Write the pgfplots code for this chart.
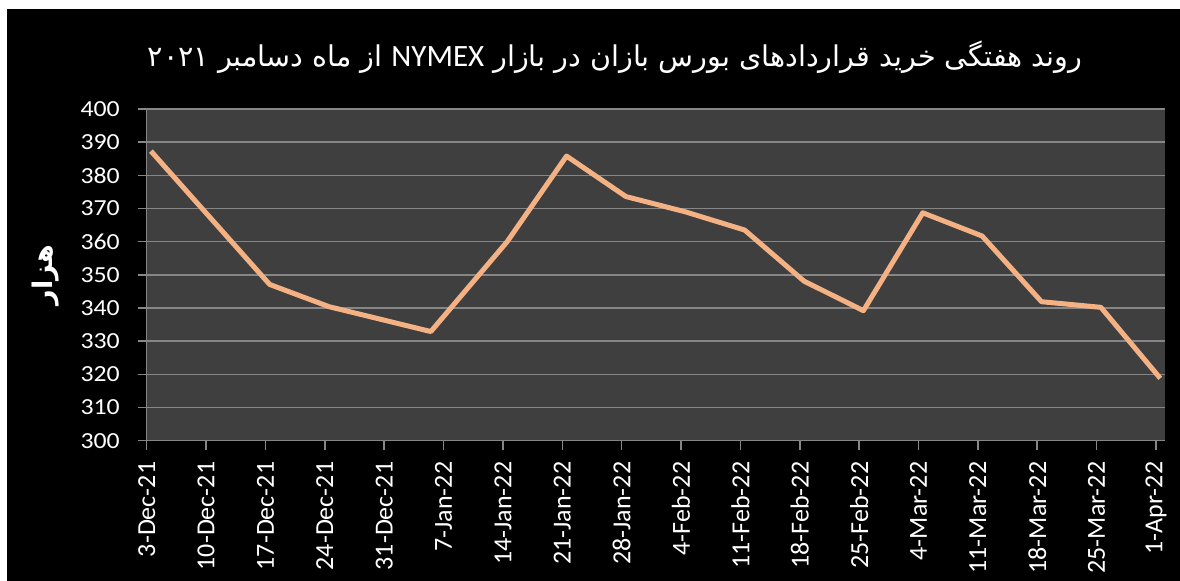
\documentclass[border=0pt]{standalone}
\usepackage{fontspec}
\usepackage{pgfplots}
\pgfplotsset{compat=1.18}
\setmainfont{Carlito}
\newfontfamily\arabicfont[Script=Arabic]{DejaVu Sans}
\newfontfamily\latinfont{Carlito}
\TeXXeTstate=1

\definecolor{plotbg}{HTML}{3F3F3F}
\definecolor{gridgray}{HTML}{868686}
\definecolor{lineorange}{HTML}{F4B183}

\pgfplotstableread{
day value
0.5 387.3
14.5 347.1
21.5 340.4
33.5 332.9
42.5 360.0
49.5 385.8
56.5 373.6
63.5 369.0
70.5 363.5
77.5 348.1
84.5 339.2
91.5 368.7
98.5 361.7
105.5 341.9
112.5 340.2
119.5 318.8
}\nymex

\begin{document}
\begin{tikzpicture}
\useasboundingbox (0,0) rectangle (590pt,290.5pt);
\fill[white] (0,0) rectangle (590pt,290.5pt);
\fill[black] (3.5pt,0) rectangle (590pt,286pt);

\begin{axis}[
  at={(73.35pt,70.15pt)}, anchor=south west,
  scale only axis,
  width=508.9pt, height=165.85pt,
  xmin=0, xmax=120,
  ymin=300, ymax=400,
  ytick={300,310,...,400},
  xtick={0,7,...,119},
  xticklabels={3-Dec-21,10-Dec-21,17-Dec-21,24-Dec-21,31-Dec-21,7-Jan-22,14-Jan-22,21-Jan-22,28-Jan-22,4-Feb-22,11-Feb-22,18-Feb-22,25-Feb-22,4-Mar-22,11-Mar-22,18-Mar-22,25-Mar-22,1-Apr-22},
  axis x line*=bottom, axis y line*=left,
  x axis line style={-}, y axis line style={-},
  axis line style={gridgray, line width=0.8pt},
  axis background/.style={fill=plotbg},
  ymajorgrids,
  major grid style={gridgray, line width=0.8pt},
  tick align=outside,
  major tick length=4.5pt,
  tick style={gridgray, line width=0.8pt},
  /pgf/number format/assume math mode=true,
  yticklabel style={font=\fontsize{11.5}{11.5}\selectfont, white, anchor=east, xscale=1.12, xshift=-4.5pt},
  xticklabel style={font=\fontsize{13}{13}\selectfont, white, rotate=90, anchor=east, xshift=-2.5pt},
  clip=false,
]
\addplot[lineorange, line width=2.5pt, line join=round] table[x=day, y=value] {\nymex};
\end{axis}

\node[white, font=\fontsize{14.3}{16}\selectfont] at (307.5pt,262pt)
  {\arabicfont\beginR روند هفتگی خرید قراردادهای بورس بازان در بازار {\latinfont\fontsize{15.5}{16}\selectfont\beginL NYMEX\endL} از ماه دسامبر \beginL ۲۰۲۱\endL\endR};
\node[white, rotate=90, font=\fontsize{13.5}{15}\selectfont\bfseries] at (23pt,153pt)
  {\arabicfont\beginR هزار\endR};
\end{tikzpicture}
\end{document}
